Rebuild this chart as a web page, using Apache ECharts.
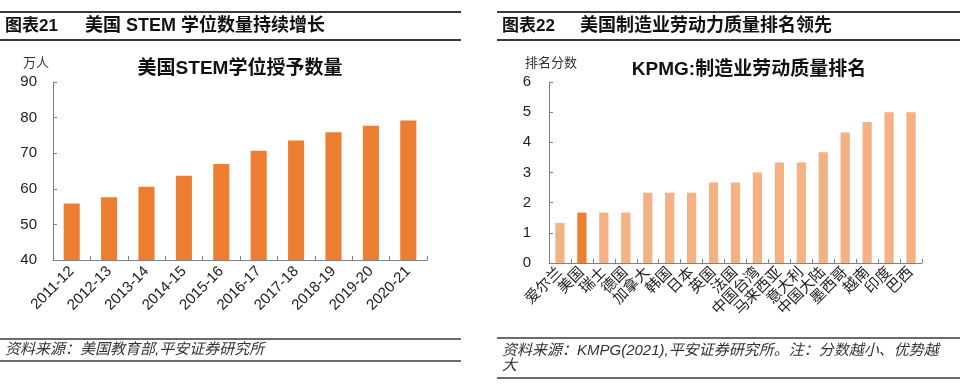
<!DOCTYPE html>
<html><head><meta charset="utf-8">
<script src="https://cdn.jsdelivr.net/npm/echarts@6/dist/echarts.min.js"></script>
<style>html,body{margin:0;padding:0;background:#fff}#c{width:960px;height:385px}</style>
</head><body><div id="c"></div>
<script>
var stemYears = ['2011-12','2012-13','2013-14','2014-15','2015-16','2016-17','2017-18','2018-19','2019-20','2020-21'];
var stemValues = [55.9, 57.6, 60.6, 63.7, 67.0, 70.7, 73.6, 75.9, 77.7, 79.2];
var countries = ['爱尔兰','美国','瑞士','德国','加拿大','韩国','日本','英国','法国','中国台湾','马来西亚','意大利','中国大陆','墨西哥','越南','印度','巴西'];
var kpmgScores = [1.33, 1.67, 1.67, 1.67, 2.33, 2.33, 2.33, 2.67, 2.67, 3.0, 3.33, 3.33, 3.67, 4.33, 4.67, 5, 5];
var highlight = '美国';
var leftYTicks = [40, 90, 10];
var rightYTicks = [0, 6, 1];

var FF = '"Liberation Sans", Arial, "Noto Sans CJK SC", sans-serif';
var dark = '#ED7D31', light = '#F4B183';
var axisLine = {show:true, lineStyle:{color:'#808080', width:1}};
var chart = echarts.init(document.getElementById('c'), null, {renderer:'canvas'});

function hline(x1,x2,y,w){return {type:'line', shape:{x1:x1,y1:y,x2:x2,y2:y}, style:{stroke:'#3a3a3a', lineWidth:w}, silent:true};}
function txt(x,y,t,o){return {type:'text', x:x, y:y, style:Object.assign({text:t, fontFamily:FF, fill:'#111', fontSize:18, fontWeight:'bold', textVerticalAlign:'middle'}, o||{})};}

chart.setOption({
  animation:false,
  textStyle:{fontFamily:FF},
  grid:[
    {left:53, right:533, top:82, bottom:125},
    {left:549, right:38, top:82, bottom:122}
  ],
  xAxis:[
    {gridIndex:0, type:'category', data:stemYears, axisLine:axisLine,
     axisTick:{show:true, inside:true, length:4, lineStyle:{color:'#808080'}},
     axisLabel:{rotate:45, fontSize:15, color:'#222', fontFamily:FF, margin:9, interval:0}},
    {gridIndex:1, type:'category', data:countries, axisLine:axisLine,
     axisTick:{show:true, inside:true, length:4, lineStyle:{color:'#808080'}},
     axisLabel:{rotate:45, fontSize:15, color:'#222', fontFamily:FF, margin:7, interval:0}}
  ],
  yAxis:[
    {gridIndex:0, type:'value', min:leftYTicks[0], max:leftYTicks[1], interval:leftYTicks[2], axisLine:axisLine,
     axisTick:{show:true, inside:true, length:4, lineStyle:{color:'#808080'}}, splitLine:{show:false},
     axisLabel:{fontSize:15, color:'#222', fontFamily:FF, margin:16}},
    {gridIndex:1, type:'value', min:rightYTicks[0], max:rightYTicks[1], interval:rightYTicks[2], axisLine:axisLine,
     axisTick:{show:true, inside:true, length:4, lineStyle:{color:'#808080'}}, splitLine:{show:false},
     axisLabel:{fontSize:15, color:'#222', fontFamily:FF, margin:18}}
  ],
  series:[
    {type:'bar', xAxisIndex:0, yAxisIndex:0, data:stemValues, barWidth:'43%', itemStyle:{color:dark}},
    {type:'bar', xAxisIndex:1, yAxisIndex:1, barWidth:'42%',
     data:kpmgScores.map(function(v,i){return {value:v, itemStyle:{color: countries[i]===highlight ? dark : light}};})}
  ],
  graphic:[
    hline(0,461,12,2), hline(0,461,40,2),
    txt(5,26,'图表21',{fontSize:17}), txt(85,26,'美国 STEM 学位数量持续增长'),
    hline(497,960,12,2), hline(497,960,40,2),
    txt(502,26,'图表22',{fontSize:17}), txt(580,26,'美国制造业劳动力质量排名领先'),
    txt(240,69,'美国STEM学位授予数量',{textAlign:'center', fontSize:19}),
    txt(749,70,'KPMG:制造业劳动质量排名',{textAlign:'center', fontSize:19}),
    txt(23,63,'万人',{fontSize:13, fontWeight:'normal', fill:'#333'}),
    txt(525,63,'排名分数',{fontSize:13, fontWeight:'normal', fill:'#333'}),
    hline(0,461,339,1.5), hline(0,461,361,1.5),
    txt(5,350,'资料来源：美国教育部,平安证券研究所',{fontSize:15, fontWeight:'normal', fontStyle:'italic', fill:'#333'}),
    hline(497,960,338,1.5), hline(497,960,378,1.5),
    txt(502,358,'资料来源：KMPG(2021),平安证券研究所。注：分数越小、优势越\n大',{fontSize:15, fontWeight:'normal', fontStyle:'italic', fill:'#333', lineHeight:15})
  ]
});
</script></body></html>
